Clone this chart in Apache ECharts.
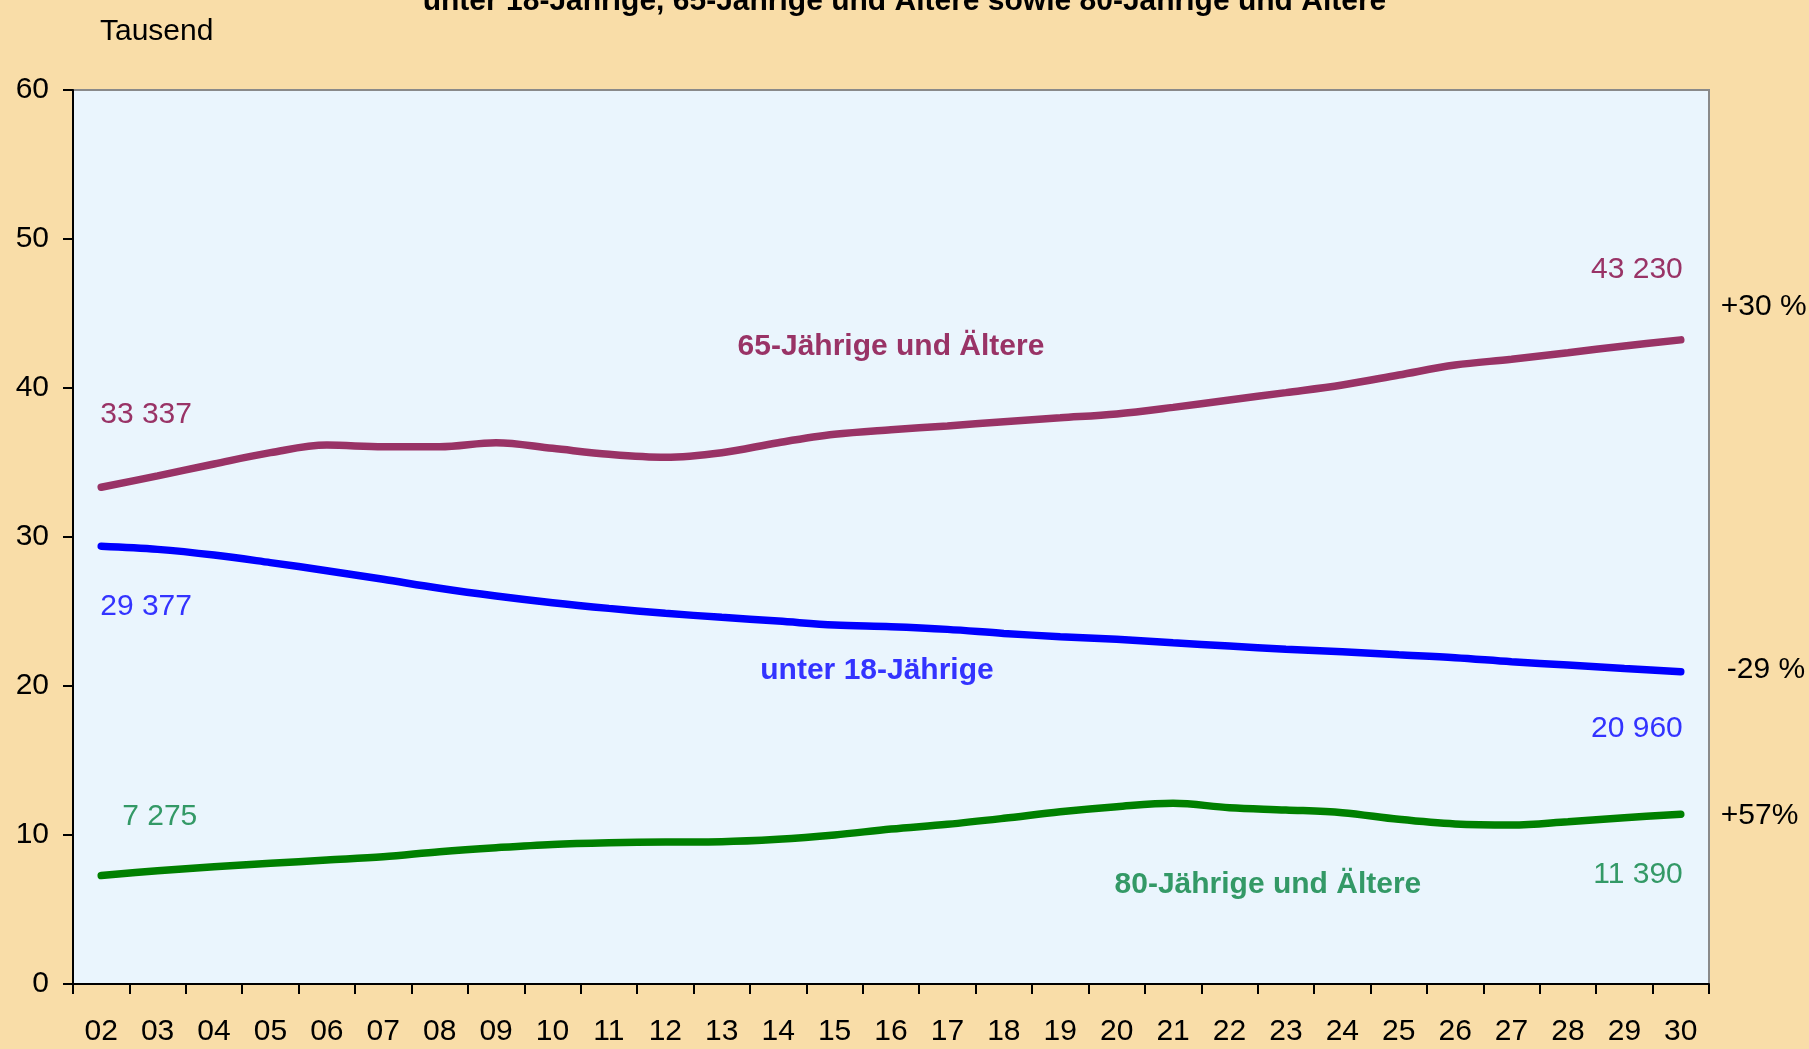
<!DOCTYPE html>
<html>
<head>
<meta charset="utf-8">
<script src="https://cdn.jsdelivr.net/npm/echarts@6/dist/echarts.min.js"></script>
<style>
html,body{margin:0;padding:0;background:#F9DDA8;}
#c{width:1809px;height:1049px;}
</style>
</head>
<body>
<div id="c"></div>
<script>
var years = ['02','03','04','05','06','07','08','09','10','11','12','13','14','15','16','17','18','19','20','21','22','23','24','25','26','27','28','29','30'];
var under18 = [29.377,29.17,28.79,28.28,27.74,27.16,26.56,26.04,25.59,25.21,24.88,24.61,24.36,24.09,23.98,23.8,23.53,23.31,23.13,22.9,22.68,22.46,22.3,22.1,21.9,21.63,21.41,21.18,20.96];
var age65 = [33.337,34.1,34.9,35.66,36.17,36.06,36.06,36.33,35.95,35.55,35.35,35.66,36.33,36.89,37.2,37.45,37.74,38.0,38.26,38.7,39.2,39.69,40.2,40.87,41.54,41.93,42.37,42.82,43.23];
var age80 = [7.275,7.6,7.87,8.1,8.32,8.54,8.88,9.15,9.37,9.48,9.53,9.55,9.71,10.0,10.4,10.72,11.12,11.56,11.9,12.13,11.83,11.68,11.5,11.05,10.74,10.67,10.89,11.16,11.39];
var seriesNames = ['65-Jährige und Ältere','unter 18-Jährige','80-Jährige und Ältere'];
var changes = ['+30 %','-29 %','+57%'];
var yTicks = [0,10,20,30,40,50,60];
var titleText = 'unter 18-Jährige, 65-Jährige und Ältere sowie 80-Jährige und Ältere';
var unitText = 'Tausend';

var FONT = "'Liberation Sans', Arial, sans-serif";
function fmt(v){
  var n = Math.round(v*1000);
  return String(n).replace(/\B(?=(\d{3})+(?!\d))/g, ' ');
}
function pt(coord, text, color, offset, align, bold){
  return {
    coord: coord, value: text, symbol: 'circle', symbolSize: 1,
    itemStyle: {color: 'rgba(0,0,0,0)'},
    label: {show: true, position: 'inside', formatter: text, color: color, offset: offset,
      align: align, verticalAlign: 'middle', fontSize: 30, fontFamily: FONT,
      fontWeight: bold ? 'bold' : 'normal'}
  };
}
var last = years.length - 1;
function mk(data, name, lineColor, textColor, firstOff, firstAlign, lastOff, nameCoord, nameOff, change, changeOff){
  return {
    type: 'line', name: name, data: data, smooth: 0.35, symbol: 'none',
    lineStyle: {color: lineColor, width: 7.5, cap: 'round'},
    z: 3,
    markPoint: {
      silent: true, animation: false,
      data: [
        pt([years[0], data[0]], fmt(data[0]), textColor, firstOff, firstAlign, false),
        pt([years[last], data[last]], fmt(data[last]), textColor, lastOff, 'right', false),
        pt(nameCoord, name, textColor, nameOff, 'center', true),
        pt([years[last], data[last]], change, '#000000', changeOff, 'left', false)
      ]
    }
  };
}

var chart = echarts.init(document.getElementById('c'), null, {renderer: 'canvas'});
chart.setOption({
  animation: false,
  backgroundColor: '#F9DDA8',
  textStyle: {fontFamily: FONT},
  graphic: [
    {type: 'text', left: 'center', top: -13, style: {text: titleText, fontSize: 30, fontWeight: 'bold', fontFamily: FONT, fill: '#000'}},
    {type: 'text', left: 100, top: 17, style: {text: unitText, fontSize: 30, fontFamily: FONT, fill: '#000'}}
  ],
  grid: {left: 73, right: 100, top: 90, bottom: 65, show: true, backgroundColor: '#EAF5FD', borderColor: '#8a8a8a', borderWidth: 2},
  xAxis: {
    type: 'category', data: years, boundaryGap: true,
    axisLine: {lineStyle: {color: '#000', width: 2}},
    axisTick: {show: true, interval: 0, length: 10, lineStyle: {color: '#000', width: 2}},
    axisLabel: {interval: 0, fontSize: 30, color: '#000', margin: 33, fontFamily: FONT},
    splitLine: {show: false}
  },
  yAxis: {
    type: 'value', min: yTicks[0], max: yTicks[yTicks.length-1], interval: 10,
    axisLine: {show: true, lineStyle: {color: '#000', width: 2}},
    axisTick: {show: true, length: 10, lineStyle: {color: '#000', width: 2}},
    axisLabel: {fontSize: 30, color: '#000', margin: 24, fontFamily: FONT},
    splitLine: {show: false}
  },
  series: [
    mk(age65, seriesNames[0], '#993366', '#993366', [-1, -73], 'left', [2, -70], ['16', 42.9], [0, 2], changes[0], [40, -33]),
    mk(under18, seriesNames[1], '#0000FF', '#3333FF', [-1, 60], 'left', [2, 57], ['16', 21.14], [-14, 2], changes[1], [46, -2]),
    mk(age80, seriesNames[2], '#008000', '#339966', [21, -59], 'left', [2, 60], ['23', 6.78], [-18, 2], changes[2], [40, 1])
  ]
});
</script>
</body>
</html>
